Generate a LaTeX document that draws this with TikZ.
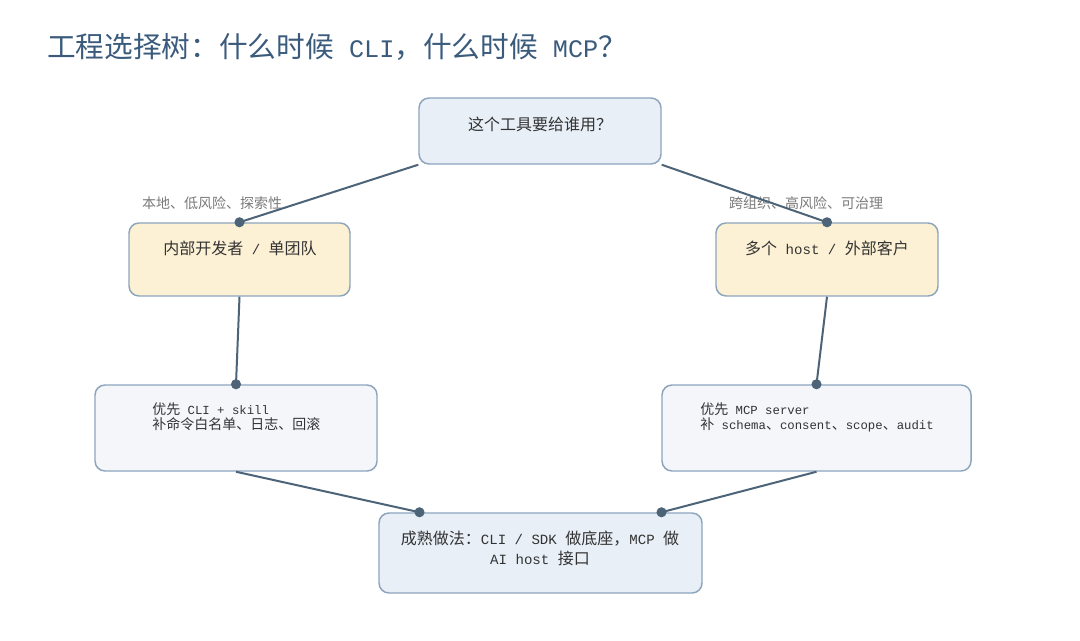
\documentclass[tikz,border=0pt]{standalone}
\usepackage{fontspec}
\setmainfont{Noto Sans CJK SC}
\setmonofont{Liberation Mono}[Scale=0.88]
\usetikzlibrary{fit,calc}
\definecolor{titlec}{HTML}{3B5B7C}
\definecolor{boxline}{HTML}{8CA5BD}
\definecolor{bluefill}{HTML}{E8EFF7}
\definecolor{yellowfill}{HTML}{FDF1D5}
\definecolor{palefill}{HTML}{F4F6FA}
\definecolor{conn}{HTML}{4D6478}
\definecolor{txt}{HTML}{333333}
\definecolor{lbl}{HTML}{7A7A7A}
\begin{document}
\begin{tikzpicture}[x=0.75pt,y=-0.75pt,
  box/.style={draw=boxline, line width=1.1pt, rounded corners=7.5pt, inner sep=0pt},
  bluebox/.style={box, fill=bluefill},
  yellowbox/.style={box, fill=yellowfill},
  palebox/.style={box, fill=palefill},
  boxtext/.style={text=txt, inner sep=0pt, font=\fontsize{12}{15}\selectfont},
  smalltext/.style={text=txt, inner sep=0pt, align=left, font=\fontsize{10.5}{11.25}\selectfont},
  edgelabel/.style={text=lbl, inner sep=0pt, font=\fontsize{10.5}{12}\selectfont},
  link/.style={draw=conn, line width=1.5pt},
  dot/.style={fill=conn, draw=none}
]
\useasboundingbox[fill=white] (0,0) rectangle (1080,641);

% title
\node[anchor=west, text=titlec, inner sep=0pt, font=\fontsize{21.5}{25}\selectfont] (title) at (47,47)
  {工程选择树：什么时候\texttt{ CLI}，什么时候\texttt{ MCP}？};

% boxes
\node[bluebox, fit={(419,98) (661,164)}] (root) {};
\node[yellowbox, fit={(129,223) (350,296)}] (inner) {};
\node[yellowbox, fit={(716,223) (938,296)}] (outer) {};
\node[palebox, fit={(95,385) (377,471)}] (cli) {};
\node[palebox, fit={(662,385) (971,471)}] (mcp) {};
\node[bluebox, fit={(379,513) (702,593)}] (mature) {};

% texts
\node[boxtext] (roottext) at (540,124) {这个工具要给谁用？};
\node[boxtext] (innertext) at (240,248) {内部开发者\texttt{ / }单团队};
\node[boxtext] (outertext) at (827,248) {多个\texttt{ host / }外部客户};
\node[smalltext, anchor=west] (clitext) at (152,417)
  {优先\texttt{ CLI + skill}\\补命令白名单、日志、回滚};
\node[smalltext, anchor=west] (mcptext) at (700,417)
  {优先\texttt{ MCP server}\\补\texttt{ schema}、\texttt{consent}、\texttt{scope}、\texttt{audit}};
\node[boxtext, align=center] (maturetext) at (540,548)
  {成熟做法：\texttt{CLI / SDK }做底座，\texttt{MCP }做\\\texttt{AI host }接口};

% edge labels
\node[edgelabel] (lbl1) at (212,203) {本地、低风险、探索性};
\node[edgelabel] (lbl2) at (806,203) {跨组织、高风险、可治理};

% connection points on the bottom box
\coordinate (mL) at ($(mature.north)+(-121,0)$);
\coordinate (mR) at ($(mature.north)+(121,0)$);

% connectors
\draw[link] (root.south west) -- (inner.north);
\draw[link] (root.south east) -- (outer.north);
\draw[link] (inner.south) -- (cli.north);
\draw[link] (outer.south) -- (mcp.north);
\draw[link] (cli.south) -- (mL);
\draw[link] (mcp.south) -- (mR);

% dots
\fill[dot] (inner.north) circle (3.8pt);
\fill[dot] (outer.north) circle (3.8pt);
\fill[dot] (cli.north) circle (3.8pt);
\fill[dot] (mcp.north) circle (3.8pt);
\fill[dot] (mL) circle (3.8pt);
\fill[dot] (mR) circle (3.8pt);
\end{tikzpicture}
\end{document}
